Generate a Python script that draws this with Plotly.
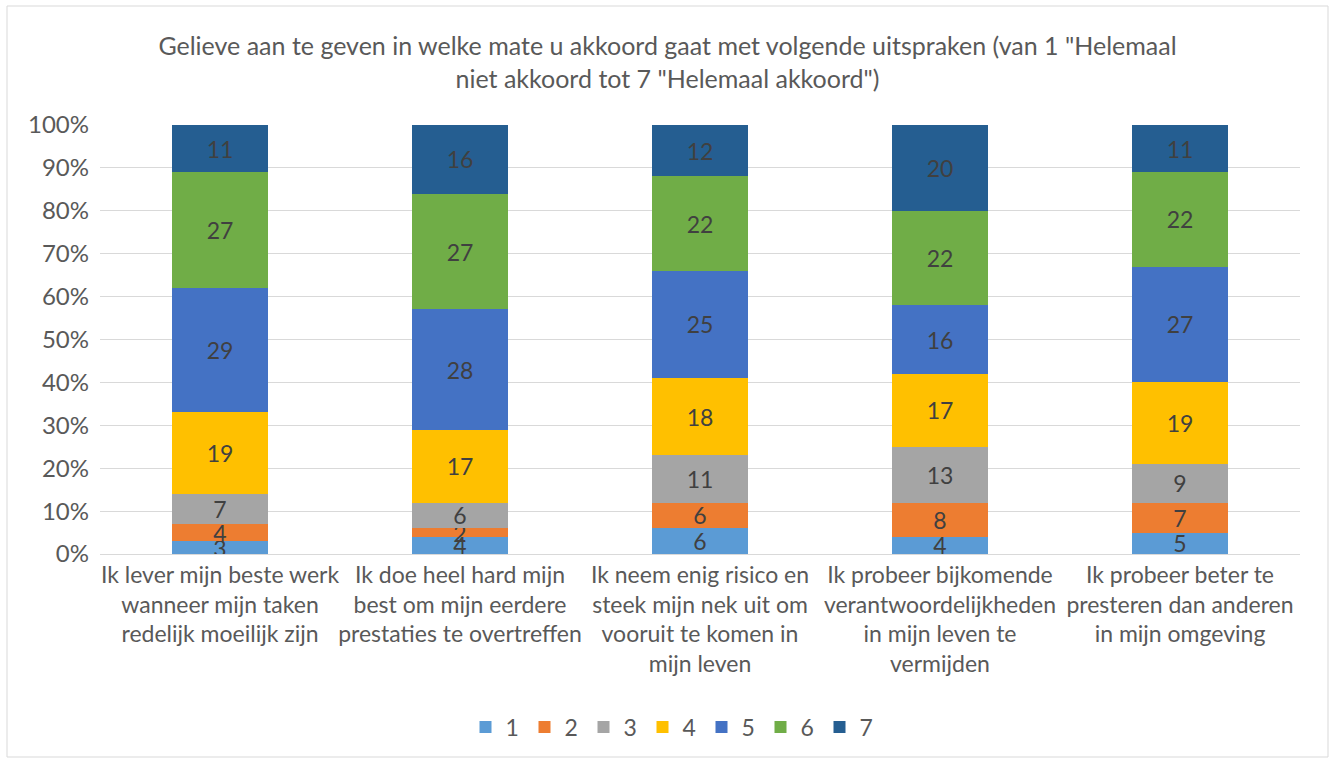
import plotly.graph_objects as go

categories = [
    "Ik lever mijn beste werk<br>wanneer mijn taken<br>redelijk moeilijk zijn",
    "Ik doe heel hard mijn<br>best om mijn eerdere<br>prestaties te overtreffen",
    "Ik neem enig risico en<br>steek mijn nek uit om<br>vooruit te komen in<br>mijn leven",
    "Ik probeer bijkomende<br>verantwoordelijkheden<br>in mijn leven te<br>vermijden",
    "Ik probeer beter te<br>presteren dan anderen<br>in mijn omgeving",
]
series_names = ["1", "2", "3", "4", "5", "6", "7"]
s1 = [3, 4, 6, 4, 5]
s2 = [4, 2, 6, 8, 7]
s3 = [7, 6, 11, 13, 9]
s4 = [19, 17, 18, 17, 19]
s5 = [29, 28, 25, 16, 27]
s6 = [27, 27, 22, 22, 22]
s7 = [11, 16, 12, 20, 11]
series_values = [s1, s2, s3, s4, s5, s6, s7]
colors = ["#5B9BD5", "#ED7D31", "#A5A5A5", "#FFC000", "#4472C4", "#70AD47", "#255E91"]
title_text = 'Gelieve aan te geven in welke mate u akkoord gaat met volgende uitspraken (van 1 "Helemaal<br>niet akkoord tot 7 "Helemaal akkoord")'

FONT = "Lato"
FS = 23
fig = go.Figure()
for name, vals, col in zip(series_names, series_values, colors):
    fig.add_trace(go.Bar(
        name=name, x=categories, y=vals, marker=dict(color=col, line=dict(width=0)),
        text=[str(v) for v in vals], textposition="inside", insidetextanchor="middle",
        textfont=dict(color="#404040", size=FS, family=FONT), textangle=0,
        hoverinfo="skip",
    ))

fig.update_layout(
    barmode="stack", bargap=0.6,
    width=1335, height=760, autosize=False,
    margin=dict(l=100, r=35, t=125, b=206, autoexpand=False),
    paper_bgcolor="white", plot_bgcolor="white",
    font=dict(family=FONT, color="#595959", size=FS),
    uniformtext=dict(minsize=FS, mode="show"),
    title=dict(text=title_text, x=0.5, xref="container", xanchor="center",
               y=1 - 55 / 760, yref="container", yanchor="top",
               font=dict(size=25, color="#595959", family=FONT)),
    legend=dict(orientation="h", x=(672 - 100) / 1200, xanchor="center",
                y=(554 - 727) / 429, yanchor="middle", traceorder="normal",
                font=dict(size=FS, color="#595959"), itemwidth=30,
                entrywidth=14, entrywidthmode="pixels"),
    showlegend=True,
    shapes=[dict(type="rect", xref="paper", yref="paper",
                 x0=(7 - 100) / 1200, x1=(1328 - 100) / 1200,
                 y0=(554 - 757) / 429, y1=(554 - 6) / 429,
                 line=dict(color="#D9D9D9", width=1), layer="below")],
)
fig.update_yaxes(range=[0, 100], dtick=10, ticksuffix="%", gridcolor="#D9D9D9",
                 gridwidth=1, zeroline=False, showline=False, ticks="",
                 ticklabelstandoff=10,
                 automargin=False, tickfont=dict(size=24, color="#595959"))
fig.update_xaxes(showline=True, linecolor="#D9D9D9", ticks="", tickangle=0,
                 automargin=False, tickfont=dict(size=FS, color="#595959"))
fig.write_html("out.html", config={"displayModeBar": False},
               post_script="document.body.style.margin='0';document.body.style.overflow='hidden';")
